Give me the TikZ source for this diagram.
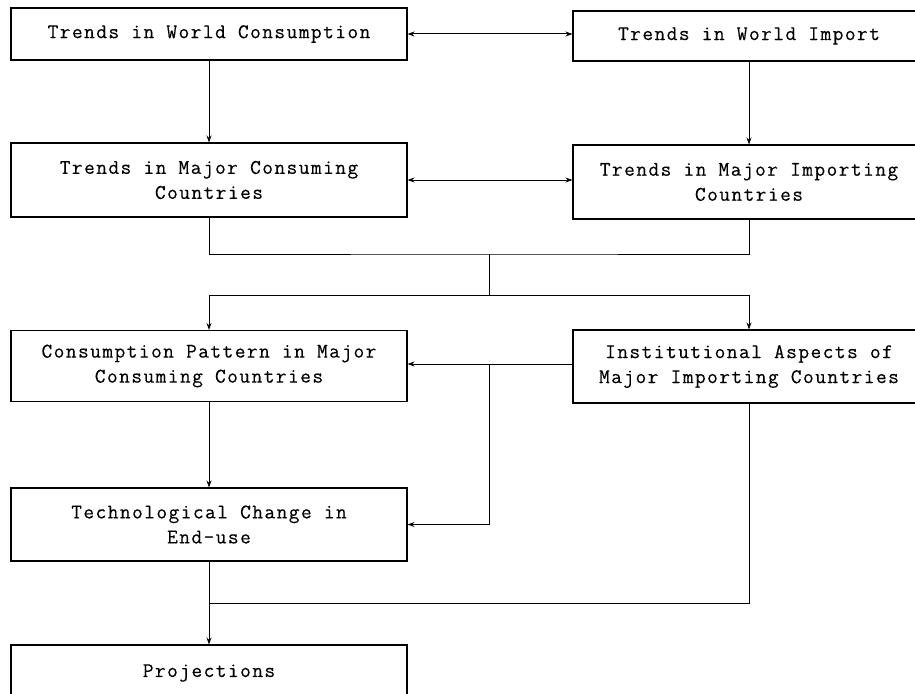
\documentclass[tikz,border=0pt]{standalone}
\usepackage{fontspec}
\newfontfamily\boxfont[LetterSpace=7,FakeBold=0.3]{Latin Modern Mono}
\usetikzlibrary{arrows.meta}
\begin{document}
\begin{tikzpicture}[x=1pt,y=-1pt,
  box/.style={draw, line width=1.1pt, rectangle, inner sep=0pt, align=center,
    font=\boxfont\fontsize{20.8}{25}\selectfont},
  lbox/.style={box, minimum width=396pt},
  rbox/.style={box, minimum width=352pt},
  link/.style={line width=1pt},
  tip/.style={link, -{Stealth[length=7pt,width=5pt]}},
  both/.style={link, {Stealth[length=7pt,width=5pt]}-{Stealth[length=7pt,width=5pt]}}]
\fill[white] (0,0) rectangle (915,693);
\clip (0,0) rectangle (915,693);

% left column
\node[lbox, minimum height=52pt] (wc) at (209,34) {Trends in World Consumption};
\node[lbox, minimum height=74pt] (mc) at (209,180) {Trends in Major Consuming\\Countries};
\node[lbox, minimum height=71pt] (cp) at (209,366) {Consumption Pattern in Major\\Consuming Countries};
\node[lbox, minimum height=73pt] (tc) at (209,524.5) {Technological Change in\\End-use};
\node[lbox, minimum height=56pt] (pr) at (209,673) {Projections};

% right column
\node[rbox, minimum height=50pt] (wi) at (749,36) {Trends in World Import};
\node[rbox, minimum height=74pt] (mi) at (749,182) {Trends in Major Importing\\Countries};
\node[rbox, minimum height=73pt] (ia) at (749,366.5) {Institutional Aspects of\\Major Importing Countries};

% junction points
\coordinate (j1) at (489,254);
\coordinate (j2) at (489,295);
\coordinate (j3) at (489,364);
\coordinate (j4) at (209,603);

% connectors
\draw[both] (wc.east) -- (wc.east -| wi.west);
\draw[both] (mc.east) -- (mc.east -| mi.west);
\draw[tip] (wc.south) -- (mc.north);
\draw[tip] (wi.south) -- (mi.north);
\draw[link] (mc.south) |- (j1) -| (mi.south);
\draw[link] (j1) -- (j2);
\draw[tip] (j2) -| (cp.north);
\draw[tip] (j2) -| (ia.north);
\draw[tip] (ia.west |- j3) -- (cp.east |- j3);
\draw[tip] (j3) |- (tc.east);
\draw[tip] (cp.south) -- (tc.north);
\draw[tip] (tc.south) -- (pr.north);
\draw[link] (ia.south) |- (j4);
\end{tikzpicture}
\end{document}
